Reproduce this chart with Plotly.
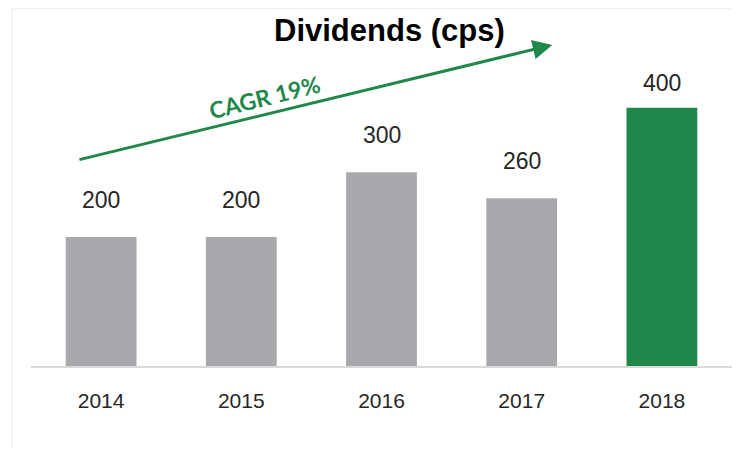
import plotly.graph_objects as go

years = ['2014', '2015', '2016', '2017', '2018']
dividends = [200, 200, 300, 260, 400]
bar_colors = ['#a7a9ac', '#a7a9ac', '#a7a9ac', '#a7a9ac', '#1f884a']

GREEN = '#1f884a'
LABEL_FONT = 'Liberation Sans Narrow, Arial Narrow, Liberation Sans, sans-serif'

fig = go.Figure()
fig.add_trace(go.Bar(
    x=years,
    y=dividends,
    marker=dict(color=bar_colors, line=dict(width=0)),
    width=0.505,
    hoverinfo='x+y',
))

# value labels above bars (last one sits a bit closer to its bar)
# year strings look numeric, so annotations use the category index instead
label_gap = [22, 22, 22, 22, 10]
for i, (v, gap) in enumerate(zip(dividends, label_gap)):
    fig.add_annotation(
        x=i, y=v, xref='x', yref='y', text=str(v), showarrow=False,
        xanchor='center', yanchor='bottom', yshift=gap,
        font=dict(family=LABEL_FONT, size=23, color='#262626'),
    )

# title
fig.add_annotation(
    x=0.511, y=1.028, xref='paper', yref='paper', text='<b>Dividends (cps)</b>',
    showarrow=False, xanchor='center', yanchor='middle',
    font=dict(family='Liberation Sans, Arial, sans-serif', size=31, color='#000000'),
)

# CAGR arrow
fig.add_annotation(
    x=0.7436, y=0.985, xref='x domain', yref='y domain',
    ax=0.067, ay=0.632, axref='x domain', ayref='y domain',
    text='', showarrow=True, arrowhead=2, arrowsize=1.3, arrowwidth=3,
    arrowcolor=GREEN,
)
fig.add_annotation(
    x=0.333, y=0.825, xref='paper', yref='paper', text='<b>CAGR 19%</b>',
    showarrow=False, textangle=-14, xanchor='center', yanchor='middle',
    font=dict(family='Lato, Open Sans, sans-serif', size=23, color=GREEN),
)

# faint outer frame
fig.add_shape(
    type='rect', xref='paper', yref='paper',
    x0=-0.027, x1=1.05, y0=-0.3, y1=1.096,
    line=dict(color='#eeeeee', width=1), fillcolor='rgba(0,0,0,0)', layer='below',
)

# the page body adds an 8px margin, so the figure is sized to fit inside it
fig.update_layout(
    width=724, height=439,
    margin=dict(l=23, r=0, t=32, b=81, pad=0),
    paper_bgcolor='white', plot_bgcolor='white',
    showlegend=False,
)
fig.update_xaxes(
    type='category',
    showgrid=False, showline=True, linecolor='#d9d9d9', linewidth=2,
    ticks='outside', ticklen=15, tickcolor='rgba(0,0,0,0)',
    tickfont=dict(family=LABEL_FONT, size=21, color='#262626'),
    range=[-0.5, 4.5],
)
fig.update_yaxes(
    range=[0, 505], showgrid=False, showticklabels=False, zeroline=False,
    showline=False,
)

fig.write_html('out.html')
